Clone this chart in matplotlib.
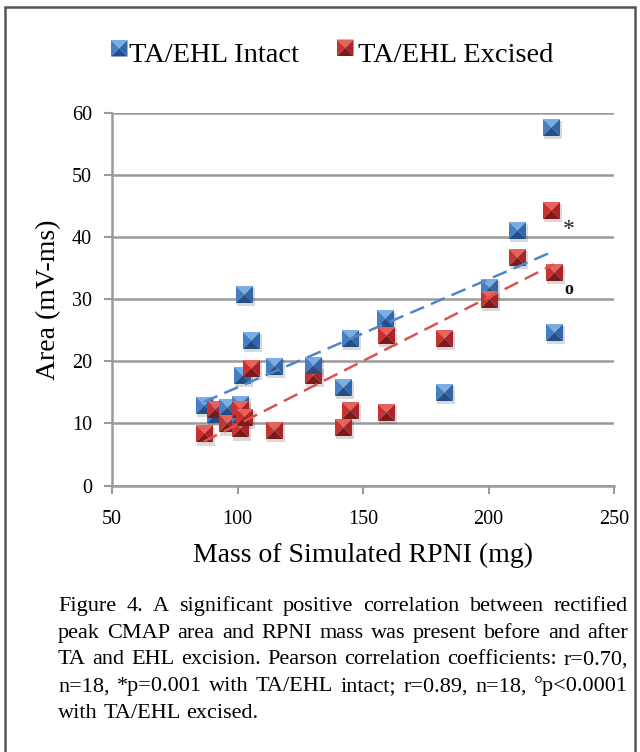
import matplotlib.pyplot as plt
import numpy as np
from matplotlib.patches import Rectangle, Polygon

# Data (mass in mg, area in mV-ms)
intact_mass = [86.5, 91.0, 95.8, 100.8, 100.8, 101.7, 102.6, 105.3, 114.6,
               130.2, 142.0, 144.7, 158.6, 182.4, 200.3, 211.5, 224.8, 226.0]
intact_area = [13.0, 11.5, 12.7, 13.2, 11.5, 17.8, 30.8, 23.4, 19.2,
               19.4, 15.9, 23.7, 26.9, 15.1, 32.0, 41.1, 57.7, 24.7]

excised_mass = [86.5, 91.2, 95.8, 100.8, 100.8, 102.4, 105.3, 114.6, 130.2,
                142.0, 145.0, 159.0, 159.0, 182.4, 200.3, 211.5, 225.0, 226.0]
excised_area = [8.4, 12.4, 10.0, 9.2, 12.3, 11.0, 18.9, 8.9, 17.8,
                9.5, 12.2, 11.9, 24.2, 23.7, 30.1, 36.8, 44.3, 34.4]

caption = [
    "Figure 4. A significant positive correlation between rectified",
    "peak CMAP area and RPNI mass was present before and after",
    "TA and EHL excision. Pearson correlation coefficients: r=0.70,",
    "n=18, *p=0.001 with TA/EHL intact; r=0.89, n=18, \u00b0p<0.0001",
    "with TA/EHL excised.",
]

SERIF = ["Liberation Serif", "DejaVu Serif"]
# pyramid faces: top, left, right, bottom
BLUE_FACES = ["#7aaee3", "#4580c6", "#3366a8", "#244e86"]
RED_FACES = ["#e8625c", "#c8332f", "#a92426", "#7c1a1b"]
BLUE_LINE = "#4f86c9"
RED_LINE = "#d9534f"
GRID = "#9a9a9a"

plt.rcParams["font.family"] = SERIF

W, H = 640, 752
fig = plt.figure(figsize=(W / 100, H / 100), dpi=100)
ax = fig.add_axes([112 / W, 1 - 485.6 / H, 502 / W, 372.9 / H])

# frame round the whole figure
fig.patches.append(Rectangle((5 / W, -0.01), 630 / W, 1 - 7 / H + 0.01,
                             transform=fig.transFigure, fill=False,
                             edgecolor="#555555", lw=1.8))

TRI = [
    [(-1, 1), (1, 1), (0, 0), (-1, 1)],     # top
    [(-1, 1), (0, 0), (-1, -1), (-1, 1)],   # left
    [(1, 1), (1, -1), (0, 0), (1, 1)],      # right
    [(-1, -1), (0, 0), (1, -1), (-1, -1)],  # bottom
]


def pyramid_markers(x, y, faces, s=150):
    x = np.asarray(x)
    y = np.asarray(y)
    ax.scatter(x + 0.8, y - 0.5, s=s, marker="s", color="#000000",
               alpha=0.15, lw=0, zorder=3)
    for i, (xi, yi) in enumerate(zip(x, y)):
        z = 4 + i * 0.01
        for tri, col in zip(TRI, faces):
            ax.scatter([xi], [yi], s=s, marker=tri, color=col, lw=0, zorder=z)


pyramid_markers(intact_mass, intact_area, BLUE_FACES)
pyramid_markers(excised_mass, excised_area, RED_FACES)

# linear trend lines
for xs, ys, c in [(intact_mass, intact_area, BLUE_LINE),
                  (excised_mass, excised_area, RED_LINE)]:
    k, b = np.polyfit(xs, ys, 1)
    xx = np.array([min(xs), max(xs)])
    ax.plot(xx, k * xx + b, ls=(0, (6, 3)), color=c, lw=1.8, zorder=7)

ax.text(232, 41.2, "*", fontsize=17, ha="center", va="center", color="#222222")
ax.text(232, 31.6, "o", fontsize=13, ha="center", va="center",
        color="#111111", fontweight="bold")

ax.set_xlim(50, 250)
ax.set_ylim(0, 60)
ax.set_xticks([50, 100, 150, 200, 250])
ax.set_yticks(range(0, 61, 10))
ax.yaxis.grid(True, color=GRID, lw=1.8)
ax.set_axisbelow(True)
for side in ["top", "right"]:
    ax.spines[side].set_visible(False)
for side in ["left", "bottom"]:
    ax.spines[side].set_color(GRID)
    ax.spines[side].set_linewidth(1.8)
ax.tick_params(axis="both", direction="out", length=6, width=1.5, color=GRID,
               labelsize=14.5)
ax.tick_params(axis="y", pad=8.5)
ax.tick_params(axis="x", pad=11.5)

fig.text(49 / W, 1 - 300 / H, "Area (mV-ms)", fontsize=20, rotation=90,
         ha="center", va="center")
fig.text(363 / W, 1 - 555 / H, "Mass of Simulated RPNI (mg)", fontsize=20,
         ha="center", va="center")


def legend_square(x0, y0, size, faces):
    cx, cy = x0 + size / 2, y0 + size / 2
    corners = {"tl": (x0, y0), "tr": (x0 + size, y0),
               "br": (x0 + size, y0 + size), "bl": (x0, y0 + size)}
    tris = [("tl", "tr"), ("bl", "tl"), ("tr", "br"), ("br", "bl")]
    for (a, b), col in zip(tris, faces):
        pts = [corners[a], corners[b], (cx, cy)]
        pts = [(px / W, 1 - py / H) for px, py in pts]
        fig.patches.append(Polygon(pts, closed=True, color=col, lw=0,
                                   transform=fig.transFigure))


legend_square(111, 40, 16.5, BLUE_FACES)
fig.text(129 / W, 1 - 62.5 / H, "TA/EHL Intact", fontsize=20.5,
         va="baseline", ha="left")
legend_square(337, 39.5, 16.5, RED_FACES)
fig.text(358 / W, 1 - 62.5 / H, "TA/EHL Excised", fontsize=20.5,
         va="baseline", ha="left")

# justified caption
renderer = fig.canvas.get_renderer()
x_left, x_right = 58, 628
for i, line in enumerate(caption):
    y = 1 - (611 + 26.7 * i) / H
    words = line.split(" ")
    texts = [fig.text(0, y, w, fontsize=16, va="baseline", ha="left")
             for w in words]
    widths = [t.get_window_extent(renderer).width for t in texts]
    if i < len(caption) - 1:
        gap = (x_right - x_left - sum(widths)) / (len(words) - 1)
    else:
        gap = texts[0].get_fontsize() * 0.25 * 100 / 72
    x = x_left
    for t, w in zip(texts, widths):
        t.set_x(x / W)
        x += w + gap

plt.savefig("out.png", dpi=100)
